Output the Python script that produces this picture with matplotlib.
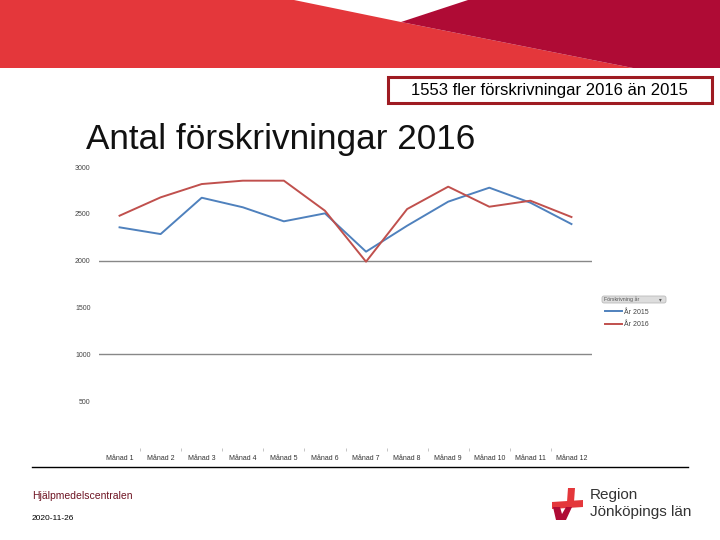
import numpy as np
import matplotlib.pyplot as plt
from matplotlib.patches import Polygon, Rectangle, FancyBboxPatch

plt.rcParams['font.family'] = ['Liberation Sans', 'DejaVu Sans']

############################################################
# Data
months = ['Månad 1', 'Månad 2', 'Månad 3', 'Månad 4', 'Månad 5', 'Månad 6',
          'Månad 7', 'Månad 8', 'Månad 9', 'Månad 10', 'Månad 11', 'Månad 12']
y2015 = [2356, 2284, 2672, 2570, 2420, 2505, 2096, 2373, 2630, 2779, 2619, 2391]
y2016 = [2480, 2676, 2818, 2854, 2854, 2533, 1989, 2551, 2790, 2576, 2640, 2466]
yticks = [500, 1000, 1500, 2000, 2500, 3000]
gridvals = [1000, 2000]

blue = '#4F81BD'
red = '#C0504D'

############################################################
fig = plt.figure(figsize=(7.2, 5.4), dpi=100)

# background layer in pixel coordinates
bg = fig.add_axes([0, 0, 1, 1], zorder=0)
bg.set_xlim(0, 720)
bg.set_ylim(540, 0)
bg.axis('off')

# header band
bg.add_patch(Polygon([(0, 0), (294, 0), (401, 22), (633, 68), (0, 68)],
                     closed=True, fc='#E4373B', ec='none'))
bg.add_patch(Polygon([(401, 22), (468, 0), (720, 0), (720, 68), (633, 68)],
                     closed=True, fc='#AF0B35', ec='none'))

# summary box
bg.add_patch(Rectangle((388, 77), 324, 26, fc='white', ec='#9E1B22', lw=2.2))
bg.text(549, 91, '1553 fler förskrivningar 2016 än 2015', fontsize=12,
        ha='center', va='center', color='black')

# title
bg.text(86, 149, 'Antal förskrivningar 2016', fontsize=25.3,
        ha='left', va='baseline', color='#111111')

# footer
bg.plot([32, 688], [467, 467], color='black', lw=1)
bg.text(32, 496, 'Hjälpmedelscentralen', fontsize=7.5, color='#6E1423',
        ha='left', va='center')
bg.text(32, 518, '2020-11-26', fontsize=6, color='black', ha='left', va='center')

# logo mark
bg.add_patch(Polygon([(568, 488), (575, 488), (574, 502), (567, 502)],
                     closed=True, fc='#E4373B', ec='none'))
bg.add_patch(Polygon([(552, 502), (583, 500), (583, 507), (552, 509)],
                     closed=True, fc='#E4373B', ec='none'))
bg.add_patch(Polygon([(553, 507), (560, 507), (562, 514), (566, 507), (572, 507),
                      (566, 520), (556, 520)],
                     closed=True, fc='#AF0B35', ec='none'))
bg.text(590, 495, 'Region', fontsize=11, color='#333333', ha='left', va='center')
bg.text(590, 512, 'Jönköpings län', fontsize=11, color='#333333', ha='left', va='center')

# legend (Excel style)
bg.add_patch(FancyBboxPatch((602, 296), 64, 7, boxstyle='round,pad=0,rounding_size=2',
                            fc='#DDDDDD', ec='#BBBBBB', lw=0.6))
bg.text(604, 299.5, 'Förskrivning år', fontsize=3.8, color='#555555', ha='left', va='center')
bg.text(660, 299.5, '▾', fontsize=4, color='#555555', ha='center', va='center')

############################################################
# chart
ax = fig.add_axes([99 / 720, 1 - 448 / 540, 493 / 720, 281 / 540], zorder=1)
ax.patch.set_alpha(0)
x = np.arange(1, len(months) + 1)

for g in gridvals:
    ax.axhline(g, color='#888888', lw=1, zorder=1)

l1, = ax.plot(x, y2015, color=blue, lw=1.4, label='År 2015', zorder=3)
l2, = ax.plot(x, y2016, color=red, lw=1.4, label='År 2016', zorder=3)

ax.set_xlim(0.5, 12.5)
ax.set_ylim(0, 3000)
ax.set_yticks(yticks)
ax.set_yticklabels([str(v) for v in yticks])
ax.set_xticks(x)
ax.set_xticklabels(months)
ax.set_xticks(np.arange(1.5, 12.5, 1), minor=True)
ax.tick_params(axis='y', length=0, labelsize=5, labelcolor='#444444', pad=6)
ax.tick_params(axis='x', which='major', length=0, labelsize=5, labelcolor='#333333', pad=5)
ax.tick_params(axis='x', which='minor', length=2, color='#BBBBBB', width=0.6, direction='out')
for s in ax.spines.values():
    s.set_visible(False)

leg = fig.legend(handles=[l1, l2], loc='upper left',
                 bbox_to_anchor=(600 / 720, 1 - 304 / 540),
                 frameon=False, fontsize=5, handlelength=2.4, handletextpad=0.3,
                 labelspacing=0.8, borderpad=0.2)
for t in leg.get_texts():
    t.set_color('#444444')

fig.savefig('out.png', dpi=100)
